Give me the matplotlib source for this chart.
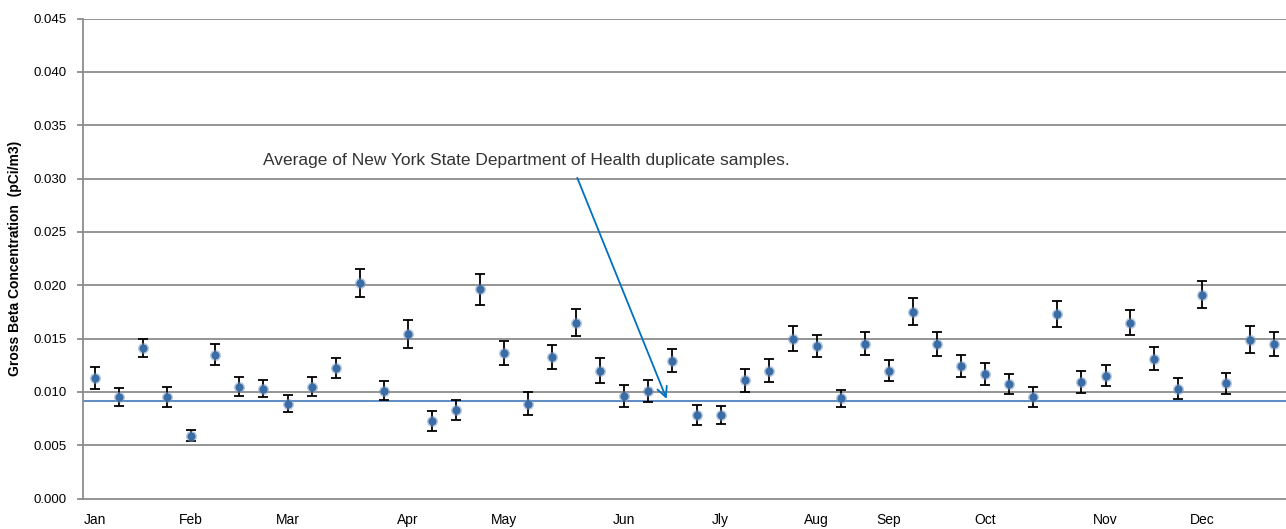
import numpy as np
import matplotlib
matplotlib.use("Agg")
import matplotlib.pyplot as plt

# weekly gross beta results (pCi/m3 x 1e-3) and their counting errors
values = [11.3, 9.5, 14.1, 9.5, 5.9, 13.5, 10.5, 10.3, 8.9, 10.5,
          12.2, 20.2, 10.1, 15.4, 7.3, 8.3, 19.6, 13.6, 8.9, 13.3,
          16.5, 12.0, 9.6, 10.1, 12.9, 7.8, 7.8, 11.1, 12.0, 15.0,
          14.3, 9.4, 14.5, 12.0, 17.5, 14.5, 12.4, 11.7, 10.7, 9.5,
          17.3, 10.9, 11.5, 16.5, 13.1, 10.3, 19.1, 10.8, 14.9, 14.5]
errors = [1.0, 0.83, 0.88, 0.96, 0.53, 1.03, 0.86, 0.79, 0.77, 0.85,
          0.94, 1.35, 0.89, 1.33, 0.94, 0.90, 1.43, 1.13, 1.08, 1.13,
          1.29, 1.15, 1.0, 1.05, 1.08, 0.93, 0.85, 1.07, 1.12, 1.18,
          1.07, 0.80, 1.07, 0.99, 1.26, 1.11, 1.04, 1.04, 0.94, 0.94,
          1.24, 1.04, 0.99, 1.19, 1.07, 0.97, 1.27, 1.0, 1.26, 1.10]
month_pos = [0, 4, 8, 13, 17, 22, 26, 30, 33, 37, 42, 46]
month_labels = ["Jan", "Feb", "Mar", "Apr", "May", "Jun",
                "Jly", "Aug", "Sep", "Oct", "Nov", "Dec"]
nysdoh_avg = 0.0091

plt.rcParams['font.family'] = ['Liberation Sans', 'DejaVu Sans']

y = np.array(values) / 1000
yerr = np.array(errors) / 1000
x = np.arange(len(y))

fig = plt.figure(figsize=(12.86, 5.29), dpi=100)
ax = fig.add_axes([83 / 1286, 1 - 498.5 / 529, 1 - 83 / 1286, 480 / 529])

grid_col = "#8c8c8c"
for v in np.arange(0.005, 0.0451, 0.005):
    ax.axhline(v, color=grid_col, lw=1.3, zorder=1)
ax.axhline(nysdoh_avg, color="#4f81bd", lw=1.3, zorder=2)

ax.errorbar(x, y, yerr=yerr, fmt="none", ecolor="black", elinewidth=1.3,
            capsize=3.5, capthick=1.3, zorder=3)
# soft edge round the markers, then the marker itself
ax.plot(x, y, "o", color="#7396c2", ms=8, alpha=0.5, mec="none", zorder=4)
ax.plot(x, y, "o", color="#3a6ca6", ms=5.8, mec="none", zorder=5)

ax.annotate("", xy=(23.8, nysdoh_avg), xytext=(20.0, 0.0303),
            arrowprops=dict(arrowstyle="->", color="#0070c0", lw=1.3,
                            mutation_scale=18), zorder=6)
ax.text(7.0, 0.0317, "Average of New York State Department of Health duplicate samples.",
        fontsize=12.5, color="#333333", va="center", ha="left")

ax.set_xlim(-0.5, 49.5)
ax.set_ylim(0, 0.045)
ax.set_yticks(np.arange(0, 0.0451, 0.005))
ax.set_yticklabels([f"{v:.3f}" for v in np.arange(0, 0.0451, 0.005)], fontsize=9.5)
ax.set_xticks(month_pos)
ax.set_xticklabels(month_labels, fontsize=10)
ax.tick_params(axis="x", length=0, pad=10.5)
ax.tick_params(axis="y", length=4, color=grid_col, width=1.3, pad=8)

for s in ["top", "right"]:
    ax.spines[s].set_visible(False)
ax.spines["left"].set_color(grid_col)
ax.spines["left"].set_linewidth(1.3)
ax.spines["bottom"].set_color(grid_col)
ax.spines["bottom"].set_linewidth(1.3)

ax.set_ylabel("Gross Beta Concentration  (pCi/m3)", fontsize=10, fontweight="bold", labelpad=8)

fig.savefig("out.png", dpi=100)
